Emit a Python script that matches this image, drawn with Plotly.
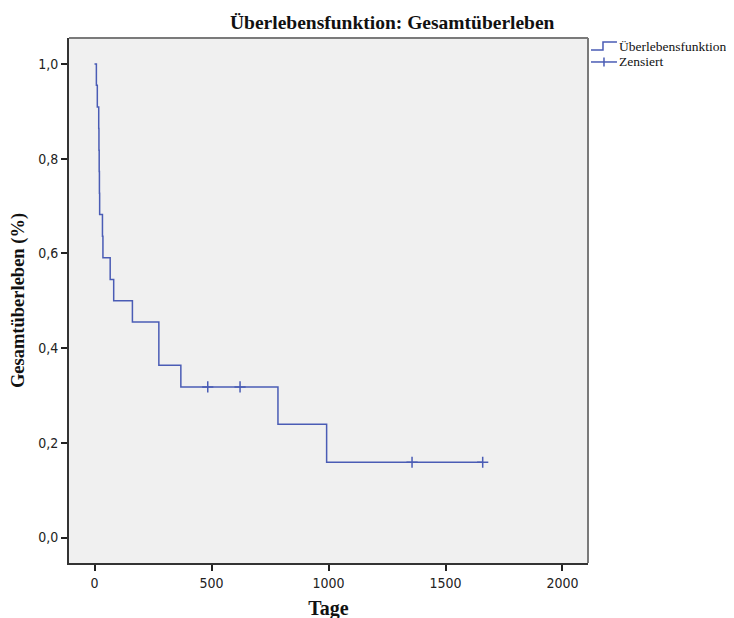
import plotly.graph_objects as go

# Kaplan-Meier step data (days, survival proportion)
step_days = [0, 8, 12, 18, 19, 20, 21, 22, 34, 36, 67, 82, 162, 275, 369, 784, 992, 1659]
step_surv = [1.0, 0.955, 0.909, 0.864, 0.818, 0.773, 0.727, 0.682, 0.636, 0.591,
             0.545, 0.5, 0.455, 0.364, 0.318, 0.239, 0.159, 0.159]

# censored observations
cens_days = [484, 622, 1357, 1659]
cens_surv = [0.318, 0.318, 0.159, 0.159]

x_ticks = [0, 500, 1000, 1500, 2000]
y_ticks = [0.0, 0.2, 0.4, 0.6, 0.8, 1.0]

legend_labels = ["Überlebensfunktion", "Zensiert"]

blue = "#4a5cb5"
serif = "Liberation Serif, Times New Roman, serif"
tickfont = dict(family="Liberation Sans Narrow, DejaVu Sans Condensed, sans-serif", size=14, color="#222")

# page geometry (the page body has an 8px margin)
PL, PR, PT, PB = 68.5, 588.0, 38.0, 563.5


def px(x):
    return (x - PL) / (PR - PL)


def py(y):
    return (PB - y) / (PB - PT)


fig = go.Figure()
fig.add_trace(go.Scatter(x=step_days, y=step_surv, mode="lines", line=dict(shape="hv", color=blue, width=1.5),
                         name=legend_labels[0], showlegend=False))
fig.add_trace(go.Scatter(x=cens_days, y=cens_surv, mode="markers",
                         marker=dict(symbol="cross-thin", size=8, line=dict(color=blue, width=1.5)),
                         name=legend_labels[1], showlegend=False))

legend_shapes = [
    dict(type="path", xref="paper", yref="paper",
         path=f"M {px(591)} {py(50)} L {px(603)} {py(50)} L {px(603)} {py(42)} L {px(617)} {py(42)}",
         line=dict(color=blue, width=1.5)),
    dict(type="line", xref="paper", yref="paper", x0=px(591), x1=px(617), y0=py(62), y1=py(62),
         line=dict(color=blue, width=1.5)),
    dict(type="line", xref="paper", yref="paper", x0=px(604), x1=px(604), y0=py(57.5), y1=py(66.5),
         line=dict(color=blue, width=1.5)),
]
frame_shapes = [
    dict(type="line", xref="paper", yref="paper", x0=0, x1=1, y0=1, y1=1, line=dict(color="#7a7a7a", width=2)),
    dict(type="line", xref="paper", yref="paper", x0=1, x1=1, y0=0, y1=1, line=dict(color="#7a7a7a", width=2)),
]

annotations = [
    dict(text="<b>Überlebensfunktion: Gesamtüberleben</b>", xref="paper", yref="paper",
         x=px(392), y=py(22), xanchor="center", yanchor="middle", showarrow=False,
         font=dict(family=serif, size=19.5, color="#111")),
    dict(text=legend_labels[0], xref="paper", yref="paper", x=px(617), y=py(46.5), xanchor="left",
         yanchor="middle", showarrow=False, font=dict(family=serif, size=13.5, color="#111")),
    dict(text=legend_labels[1], xref="paper", yref="paper", x=px(617), y=py(61.5), xanchor="left",
         yanchor="middle", showarrow=False, font=dict(family=serif, size=13.5, color="#111")),
]

fig.update_layout(
    width=734, height=618,
    margin=dict(l=60.5, r=154, t=30, b=62.5, autoexpand=False),
    paper_bgcolor="white", plot_bgcolor="#f0f0f0",
    separators=",.",
    showlegend=False,
    annotations=annotations,
    shapes=frame_shapes + legend_shapes,
)
fig.update_xaxes(range=[-109, 2109], tickvals=x_ticks, ticks="outside", ticklen=6, tickwidth=1.5, tickcolor="#222",
                 showline=True, linecolor="#333", linewidth=2, showgrid=False, zeroline=False, tickfont=tickfont,
                 automargin=False,
                 title=dict(text="<b>Tage</b>", font=dict(family=serif, size=20, color="#111"), standoff=11))
fig.update_yaxes(range=[-0.0538, 1.0549], tickvals=y_ticks, tickformat=".1f", ticks="outside", ticklen=6,
                 tickwidth=1.5, tickcolor="#222", showline=True, linecolor="#333", linewidth=2, showgrid=False,
                 zeroline=False, tickfont=tickfont, automargin=False,
                 title=dict(text="<b>Gesamtüberleben (%)</b>", font=dict(family=serif, size=18.5, color="#111"),
                            standoff=12))

fig.write_html("out.html")
